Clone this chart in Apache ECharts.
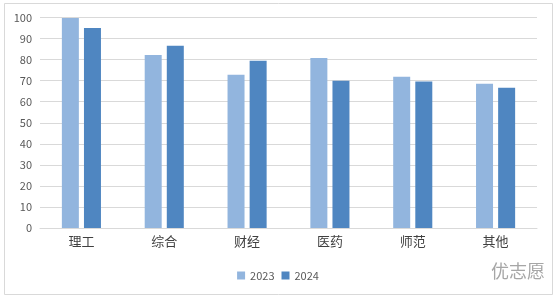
<!DOCTYPE html>
<html><head><meta charset="utf-8">
<script src="https://cdn.jsdelivr.net/npm/echarts@6/dist/echarts.min.js"></script>
<style>html,body{margin:0;padding:0;background:#fff}#c{width:556px;height:297px}</style>
</head><body><div id="c"></div>
<script>
const categories = ['理工','综合','财经','医药','师范','其他'];
const s2023 = [99.8, 82.2, 72.8, 80.8, 71.8, 68.5];
const s2024 = [95.0, 86.6, 79.4, 70.0, 69.6, 66.6];
const seriesNames = ['2023','2024'];
const chart = echarts.init(document.getElementById('c'), null, {renderer:'canvas'});
const font = "'Microsoft YaHei','Noto Sans CJK SC','DejaVu Sans',sans-serif";
chart.setOption({
  animation:false,
  backgroundColor:'#fff',
  textStyle:{fontFamily:font},
  grid:{left:40,right:19,top:17.5,bottom:69},
  legend:{
    data:seriesNames, top:265, left:'center', itemWidth:8, itemHeight:8, itemGap:7,
    icon:'rect', textStyle:{color:'#595959',fontSize:11,fontFamily:font}
  },
  xAxis:{
    type:'category', data:categories,
    axisLine:{lineStyle:{color:'#d9d9d9'}}, axisTick:{show:false},
    axisLabel:{color:'#404040',fontSize:13,margin:7,fontFamily:font}
  },
  yAxis:{
    type:'value', min:0, max:100, interval:10,
    axisLine:{show:false}, axisTick:{show:false},
    splitLine:{lineStyle:{color:'#d9d9d9'}},
    axisLabel:{color:'#595959',fontSize:11,margin:8,fontFamily:font}
  },
  series:[
    {name:seriesNames[0], type:'bar', data:s2023, barWidth:17, barGap:'30%', itemStyle:{color:'#92b5de'}},
    {name:seriesNames[1], type:'bar', data:s2024, barWidth:17, itemStyle:{color:'#4f86c1'}}
  ],
  graphic:[
    {type:'rect', shape:{x:4.5,y:3.5,width:548,height:291}, style:{fill:'none',stroke:'#d9d9d9',lineWidth:1}, silent:true, z:-1},
    {type:'text', right:11, top:262, style:{text:'优志愿', fill:'#a6a6a6', fontSize:18, fontFamily:font}}
  ]
});
</script></body></html>
